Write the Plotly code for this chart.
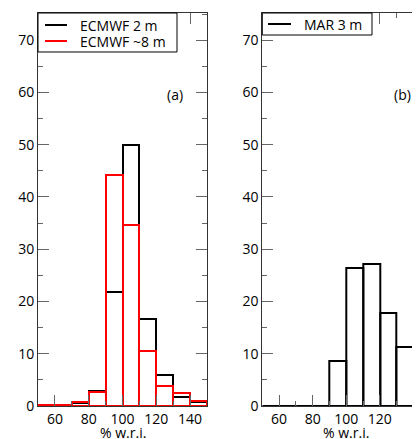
import plotly.graph_objects as go

# bin centres (% w.r.i.), 10-wide bins
bin_centres = [55, 65, 75, 85, 95, 105, 115, 125, 135, 145]
ecmwf_2m = [0.0, 0.1, 0.5, 2.9, 21.9, 50.0, 16.6, 5.9, 1.7, 0.7]
ecmwf_8m = [0.1, 0.1, 0.7, 2.7, 44.2, 34.6, 10.6, 3.8, 2.4, 1.0]
mar_3m = [0.0, 0.0, 0.0, 0.0, 8.7, 26.4, 27.1, 17.8, 11.2, 8.7]

x_ticks = [60, 80, 100, 120, 140]
y_ticks = [0, 10, 20, 30, 40, 50, 60, 70]

FONT = "Open Sans"
AXC = "#333333"
TKC = "#666666"
RED = "#ff0000"

fig = go.Figure()

def hist(x, y, color, xa, ya):
    return go.Bar(x=x, y=y, width=10, xaxis=xa, yaxis=ya,
                  marker=dict(color="rgba(0,0,0,0)", line=dict(color=color, width=2)),
                  showlegend=False, hoverinfo="skip")

fig.add_trace(hist(bin_centres, ecmwf_2m, "black", "x", "y"))
fig.add_trace(hist(bin_centres, ecmwf_8m, RED, "x", "y"))
fig.add_trace(hist(bin_centres, mar_3m, "black", "x2", "y2"))

# page has an 8 px body margin, so the figure is offset by 8 px
W, H = 412, 431
dA = [30 / W, 199 / W]
dB = [254.3 / W, 1.0]

common_x = dict(tickvals=x_ticks, ticks="inside", ticklen=11, tickcolor=TKC, tickwidth=1,
                minor=dict(dtick=10, tick0=50, ticks="inside", ticklen=5, tickcolor=TKC),
                showline=True, linecolor=AXC, linewidth=1, showgrid=False, zeroline=False,
                tickfont=dict(family=FONT, size=14, color="black"), automargin=False)
common_y = dict(tickvals=y_ticks, ticks="inside", ticklen=11, tickcolor=TKC, tickwidth=1,
                minor=dict(dtick=5, tick0=0, ticks="inside", ticklen=5, tickcolor=TKC),
                showline=True, linecolor=AXC, linewidth=1, showgrid=False, zeroline=False,
                tickfont=dict(family=FONT, size=14, color="black"), range=[0, 75.2],
                automargin=False)

tfont = dict(family=FONT, size=14, color="black")

# legend drawn as boxed entries (line sample + label) in each panel
legend_a = [("ECMWF 2 m", "black"), ("ECMWF ~8 m", RED)]
legend_b = [("MAR 3 m", "black")]

shapes = []
annotations = []

def legend(entries, xr, yr, box_x1, box_y0, line_x, text_x, ys):
    shapes.append(dict(type="rect", xref=xr, yref=yr, x0=0, x1=box_x1, y0=box_y0, y1=1,
                       fillcolor="white", line=dict(color="black", width=1), layer="above"))
    for (name, col), yy in zip(entries, ys):
        shapes.append(dict(type="line", xref=xr, yref=yr, x0=line_x[0], x1=line_x[1], y0=yy, y1=yy,
                           line=dict(color=col, width=2), layer="above"))
        annotations.append(dict(text=name, xref=xr, yref=yr, x=text_x, y=yy, xanchor="left",
                                yanchor="middle", showarrow=False, font=tfont,
                                height=14, borderpad=0, valign="middle"))

legend(legend_a, "x domain", "y domain", 0.8225, 0.9008, (0.0414, 0.1716), 0.2426, [0.9695, 0.9288])
legend(legend_b, "x2 domain", "y2 domain", 0.6956, 0.944, (0.036, 0.182), 0.256, [0.972])

annotations += [
    dict(text="(a)", x=0.81, y=59.7, xref="x domain", yref="y", xanchor="center",
         showarrow=False, font=tfont),
    dict(text="(b)", x=0.89, y=59.7, xref="x2 domain", yref="y2", xanchor="center",
         showarrow=False, font=tfont),
    dict(text="% w.r.i.", x=100, y=0, xref="x", yref="paper", xanchor="center", yanchor="top",
         yshift=-15, showarrow=False, font=tfont),
    dict(text="% w.r.i.", x=100, y=0, xref="x2", yref="paper", xanchor="center", yanchor="top",
         yshift=-15, showarrow=False, font=tfont),
]

fig.update_layout(
    width=W, height=H, autosize=False,
    margin=dict(l=0, r=0, t=5, b=33),
    paper_bgcolor="white", plot_bgcolor="white",
    barmode="overlay", bargap=0, showlegend=False,
    xaxis=dict(common_x, domain=dA, range=[50, 150], mirror="ticks", anchor="y"),
    yaxis=dict(common_y, domain=[0, 1], mirror="ticks", anchor="x"),
    xaxis2=dict(common_x, domain=dB, range=[50, 143.9], mirror="ticks", anchor="y2"),
    yaxis2=dict(common_y, domain=[0, 1], mirror=False, anchor="x2"),
    shapes=shapes,
    annotations=annotations,
)

fig.write_html("out.html")
